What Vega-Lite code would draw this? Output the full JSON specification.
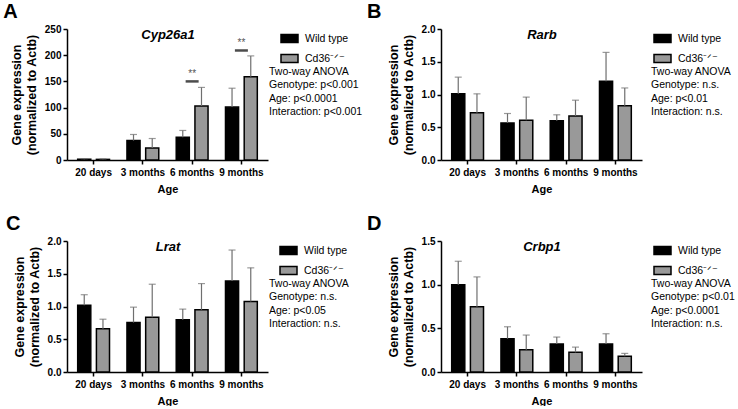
{
  "$schema": "https://vega.github.io/schema/vega-lite/v6.json",
  "padding": {"left": 3, "top": 2, "right": 0, "bottom": 0},
  "columns": 2,
  "bounds": "flush",
  "spacing": {"row": 81, "column": 173},
  "resolve": {"scale": {"fill": "independent"}, "legend": {"fill": "independent"}},
  "datasets": {
    "cyp": [
      {"age": "20 days", "genotype": "Wild type", "mean": 1.5, "upper": 2.5},
      {"age": "20 days", "genotype": "Cd36⁻ᐟ⁻", "mean": 1.2, "upper": 2},
      {"age": "3 months", "genotype": "Wild type", "mean": 37, "upper": 48.7},
      {"age": "3 months", "genotype": "Cd36⁻ᐟ⁻", "mean": 23, "upper": 41},
      {"age": "6 months", "genotype": "Wild type", "mean": 43.6, "upper": 56.4},
      {"age": "6 months", "genotype": "Cd36⁻ᐟ⁻", "mean": 103, "upper": 138.5},
      {"age": "9 months", "genotype": "Wild type", "mean": 101, "upper": 137},
      {"age": "9 months", "genotype": "Cd36⁻ᐟ⁻", "mean": 159, "upper": 198.7}
    ],
    "cypSig": [
      {"age": "6 months", "y": 150, "label": "**"},
      {"age": "9 months", "y": 209, "label": "**"}
    ],
    "rarb": [
      {"age": "20 days", "genotype": "Wild type", "mean": 1.01, "upper": 1.265},
      {"age": "20 days", "genotype": "Cd36⁻ᐟ⁻", "mean": 0.72, "upper": 1.01},
      {"age": "3 months", "genotype": "Wild type", "mean": 0.566, "upper": 0.71},
      {"age": "3 months", "genotype": "Cd36⁻ᐟ⁻", "mean": 0.607, "upper": 0.96},
      {"age": "6 months", "genotype": "Wild type", "mean": 0.6, "upper": 0.69},
      {"age": "6 months", "genotype": "Cd36⁻ᐟ⁻", "mean": 0.673, "upper": 0.913},
      {"age": "9 months", "genotype": "Wild type", "mean": 1.204, "upper": 1.643},
      {"age": "9 months", "genotype": "Cd36⁻ᐟ⁻", "mean": 0.83, "upper": 1.1}
    ],
    "lrat": [
      {"age": "20 days", "genotype": "Wild type", "mean": 1.02, "upper": 1.18},
      {"age": "20 days", "genotype": "Cd36⁻ᐟ⁻", "mean": 0.66, "upper": 0.806},
      {"age": "3 months", "genotype": "Wild type", "mean": 0.755, "upper": 0.99},
      {"age": "3 months", "genotype": "Cd36⁻ᐟ⁻", "mean": 0.837, "upper": 1.34},
      {"age": "6 months", "genotype": "Wild type", "mean": 0.796, "upper": 0.96},
      {"age": "6 months", "genotype": "Cd36⁻ᐟ⁻", "mean": 0.95, "upper": 1.35},
      {"age": "9 months", "genotype": "Wild type", "mean": 1.388, "upper": 1.862},
      {"age": "9 months", "genotype": "Cd36⁻ᐟ⁻", "mean": 1.077, "upper": 1.59}
    ],
    "crbp": [
      {"age": "20 days", "genotype": "Wild type", "mean": 1.0, "upper": 1.268},
      {"age": "20 days", "genotype": "Cd36⁻ᐟ⁻", "mean": 0.746, "upper": 1.089},
      {"age": "3 months", "genotype": "Wild type", "mean": 0.381, "upper": 0.518},
      {"age": "3 months", "genotype": "Cd36⁻ᐟ⁻", "mean": 0.255, "upper": 0.423},
      {"age": "6 months", "genotype": "Wild type", "mean": 0.32, "upper": 0.4},
      {"age": "6 months", "genotype": "Cd36⁻ᐟ⁻", "mean": 0.225, "upper": 0.285},
      {"age": "9 months", "genotype": "Wild type", "mean": 0.32, "upper": 0.438},
      {"age": "9 months", "genotype": "Cd36⁻ᐟ⁻", "mean": 0.179, "upper": 0.213}
    ]
  },
  "concat": [
    {
      "title": {"text": "A", "dx": -7},
      "width": 201, "height": 131,
      "data": {"name": "cyp"},
      "resolve": {"axis": {"x": "independent"}},
      "layer": [
        {
          "mark": {"type": "bar", "stroke": "black", "strokeWidth": 1.5},
          "encoding": {
            "x": {"field": "age", "type": "nominal", "scale": {"domain": ["20 days", "3 months", "6 months", "9 months"], "paddingInner": 0.354, "paddingOuter": 0.217}, "axis": {"title": "Age"}},
            "xOffset": {"field": "genotype", "type": "nominal", "scale": {"domain": ["Wild type", "Cd36⁻ᐟ⁻"], "paddingInner": 0.3}},
            "y": {"field": "mean", "type": "quantitative", "scale": {"domain": [0, 250], "nice": false}, "axis": {"values": [0, 50, 100, 150, 200, 250], "title": ["Gene expression", "(normalized to Actb)"]}},
            "fill": {"field": "genotype", "type": "nominal", "scale": {"domain": ["Wild type", "Cd36⁻ᐟ⁻"], "range": ["#000000", "#999999"]},
              "legend": {"title": ["Two-way ANOVA", "Genotype: p<0.001", "Age: p<0.0001", "Interaction: p<0.001"], "offset": 1, "symbolOffset": 11}}
          }
        },
        {
          "mark": {"type": "rule", "color": "#6f6f6f", "strokeWidth": 1.2},
          "encoding": {
            "x": {"field": "age", "type": "nominal", "axis": {"orient": "top", "title": "Cyp26a1", "labels": false, "ticks": false, "domain": false, "titlePadding": -12, "titleFontSize": 13, "titleFontStyle": "italic"}},
            "xOffset": {"field": "genotype", "type": "nominal"},
            "y": {"field": "mean", "type": "quantitative", "axis": {"values": [0, 50, 100, 150, 200, 250], "title": ["Gene expression", "(normalized to Actb)"]}},
            "y2": {"field": "upper"}
          }
        },
        {
          "mark": {"type": "tick", "color": "#6f6f6f", "thickness": 1.2, "size": 7},
          "encoding": {
            "x": {"field": "age", "type": "nominal", "axis": null},
            "xOffset": {"field": "genotype", "type": "nominal"},
            "y": {"field": "upper", "type": "quantitative", "axis": {"values": [0, 50, 100, 150, 200, 250], "title": ["Gene expression", "(normalized to Actb)"]}}
          }
        },
        {
          "data": {"name": "cypSig"},
          "mark": {"type": "tick", "color": "black", "thickness": 2.5, "size": 13},
          "encoding": {
            "x": {"field": "age", "type": "nominal", "axis": null},
            "y": {"field": "y", "type": "quantitative", "axis": {"values": [0, 50, 100, 150, 200, 250], "title": ["Gene expression", "(normalized to Actb)"]}}
          }
        },
        {
          "data": {"name": "cypSig"},
          "mark": {"type": "text", "color": "#555555", "fontSize": 10, "dy": -7},
          "encoding": {
            "x": {"field": "age", "type": "nominal", "axis": null},
            "y": {"field": "y", "type": "quantitative", "axis": {"values": [0, 50, 100, 150, 200, 250], "title": ["Gene expression", "(normalized to Actb)"]}},
            "text": {"field": "label"}
          }
        }
      ]
    },
    {
      "title": {"text": "B", "dx": -20},
      "width": 201, "height": 131,
      "data": {"name": "rarb"},
      "resolve": {"axis": {"x": "independent"}},
      "layer": [
        {
          "mark": {"type": "bar", "stroke": "black", "strokeWidth": 1.5},
          "encoding": {
            "x": {"field": "age", "type": "nominal", "scale": {"domain": ["20 days", "3 months", "6 months", "9 months"], "paddingInner": 0.354, "paddingOuter": 0.217}, "axis": {"title": "Age"}},
            "xOffset": {"field": "genotype", "type": "nominal", "scale": {"domain": ["Wild type", "Cd36⁻ᐟ⁻"], "paddingInner": 0.3}},
            "y": {"field": "mean", "type": "quantitative", "scale": {"domain": [0, 2], "nice": false}, "axis": {"values": [0, 0.5, 1, 1.5, 2], "format": ".1f", "title": ["Gene expression", "(normalized to Actb)"]}},
            "fill": {"field": "genotype", "type": "nominal", "scale": {"domain": ["Wild type", "Cd36⁻ᐟ⁻"], "range": ["#000000", "#999999"]},
              "legend": {"title": ["Two-way ANOVA", "Genotype: n.s.", "Age: p<0.01", "Interaction: n.s."], "offset": 9, "symbolOffset": 2}}
          }
        },
        {
          "mark": {"type": "rule", "color": "#6f6f6f", "strokeWidth": 1.2},
          "encoding": {
            "x": {"field": "age", "type": "nominal", "axis": {"orient": "top", "title": "Rarb", "labels": false, "ticks": false, "domain": false, "titlePadding": -12, "titleFontSize": 13, "titleFontStyle": "italic"}},
            "xOffset": {"field": "genotype", "type": "nominal"},
            "y": {"field": "mean", "type": "quantitative", "axis": {"values": [0, 0.5, 1, 1.5, 2], "format": ".1f", "title": ["Gene expression", "(normalized to Actb)"]}},
            "y2": {"field": "upper"}
          }
        },
        {
          "mark": {"type": "tick", "color": "#6f6f6f", "thickness": 1.2, "size": 7},
          "encoding": {
            "x": {"field": "age", "type": "nominal", "axis": null},
            "xOffset": {"field": "genotype", "type": "nominal"},
            "y": {"field": "upper", "type": "quantitative", "axis": {"values": [0, 0.5, 1, 1.5, 2], "format": ".1f", "title": ["Gene expression", "(normalized to Actb)"]}}
          }
        }
      ]
    },
    {
      "title": {"text": "C", "dx": -7},
      "width": 201, "height": 131,
      "data": {"name": "lrat"},
      "resolve": {"axis": {"x": "independent"}},
      "layer": [
        {
          "mark": {"type": "bar", "stroke": "black", "strokeWidth": 1.5},
          "encoding": {
            "x": {"field": "age", "type": "nominal", "scale": {"domain": ["20 days", "3 months", "6 months", "9 months"], "paddingInner": 0.354, "paddingOuter": 0.217}, "axis": {"title": "Age"}},
            "xOffset": {"field": "genotype", "type": "nominal", "scale": {"domain": ["Wild type", "Cd36⁻ᐟ⁻"], "paddingInner": 0.3}},
            "y": {"field": "mean", "type": "quantitative", "scale": {"domain": [0, 2], "nice": false}, "axis": {"values": [0, 0.5, 1, 1.5, 2], "format": ".1f", "title": ["Gene expression", "(normalized to Actb)"]}},
            "fill": {"field": "genotype", "type": "nominal", "scale": {"domain": ["Wild type", "Cd36⁻ᐟ⁻"], "range": ["#000000", "#999999"]},
              "legend": {"title": ["Two-way ANOVA", "Genotype: n.s.", "Age: p<0.05", "Interaction: n.s."], "offset": 1, "symbolOffset": 10}}
          }
        },
        {
          "mark": {"type": "rule", "color": "#6f6f6f", "strokeWidth": 1.2},
          "encoding": {
            "x": {"field": "age", "type": "nominal", "axis": {"orient": "top", "title": "Lrat", "labels": false, "ticks": false, "domain": false, "titlePadding": -12, "titleFontSize": 13, "titleFontStyle": "italic"}},
            "xOffset": {"field": "genotype", "type": "nominal"},
            "y": {"field": "mean", "type": "quantitative", "axis": {"values": [0, 0.5, 1, 1.5, 2], "format": ".1f", "title": ["Gene expression", "(normalized to Actb)"]}},
            "y2": {"field": "upper"}
          }
        },
        {
          "mark": {"type": "tick", "color": "#6f6f6f", "thickness": 1.2, "size": 7},
          "encoding": {
            "x": {"field": "age", "type": "nominal", "axis": null},
            "xOffset": {"field": "genotype", "type": "nominal"},
            "y": {"field": "upper", "type": "quantitative", "axis": {"values": [0, 0.5, 1, 1.5, 2], "format": ".1f", "title": ["Gene expression", "(normalized to Actb)"]}}
          }
        }
      ]
    },
    {
      "title": {"text": "D", "dx": -20},
      "width": 201, "height": 131,
      "data": {"name": "crbp"},
      "resolve": {"axis": {"x": "independent"}},
      "layer": [
        {
          "mark": {"type": "bar", "stroke": "black", "strokeWidth": 1.5},
          "encoding": {
            "x": {"field": "age", "type": "nominal", "scale": {"domain": ["20 days", "3 months", "6 months", "9 months"], "paddingInner": 0.354, "paddingOuter": 0.217}, "axis": {"title": "Age"}},
            "xOffset": {"field": "genotype", "type": "nominal", "scale": {"domain": ["Wild type", "Cd36⁻ᐟ⁻"], "paddingInner": 0.3}},
            "y": {"field": "mean", "type": "quantitative", "scale": {"domain": [0, 1.5], "nice": false}, "axis": {"values": [0, 0.5, 1, 1.5], "format": ".1f", "title": ["Gene expression", "(normalized to Actb)"]}},
            "fill": {"field": "genotype", "type": "nominal", "scale": {"domain": ["Wild type", "Cd36⁻ᐟ⁻"], "range": ["#000000", "#999999"]},
              "legend": {"title": ["Two-way ANOVA", "Genotype: p<0.01", "Age: p<0.0001", "Interaction: n.s."], "offset": 9, "symbolOffset": 2}}
          }
        },
        {
          "mark": {"type": "rule", "color": "#6f6f6f", "strokeWidth": 1.2},
          "encoding": {
            "x": {"field": "age", "type": "nominal", "axis": {"orient": "top", "title": "Crbp1", "labels": false, "ticks": false, "domain": false, "titlePadding": -12, "titleFontSize": 13, "titleFontStyle": "italic"}},
            "xOffset": {"field": "genotype", "type": "nominal"},
            "y": {"field": "mean", "type": "quantitative", "axis": {"values": [0, 0.5, 1, 1.5], "format": ".1f", "title": ["Gene expression", "(normalized to Actb)"]}},
            "y2": {"field": "upper"}
          }
        },
        {
          "mark": {"type": "tick", "color": "#6f6f6f", "thickness": 1.2, "size": 7},
          "encoding": {
            "x": {"field": "age", "type": "nominal", "axis": null},
            "xOffset": {"field": "genotype", "type": "nominal"},
            "y": {"field": "upper", "type": "quantitative", "axis": {"values": [0, 0.5, 1, 1.5], "format": ".1f", "title": ["Gene expression", "(normalized to Actb)"]}}
          }
        }
      ]
    }
  ],
  "config": {
    "view": {"stroke": null},
    "font": "Liberation Sans",
    "title": {"font": "Liberation Sans", "fontSize": 20, "fontWeight": "bold", "color": "black", "anchor": "start", "frame": "bounds", "offset": 2},
    "axis": {"domainColor": "black", "domainWidth": 1.5, "tickColor": "black", "tickWidth": 1.5, "tickSize": 4, "labelColor": "black", "labelFont": "Liberation Sans", "labelFontSize": 10, "labelFontWeight": "bold", "titleColor": "black", "titleFont": "Liberation Sans", "titleFontWeight": "bold", "grid": false},
    "axisY": {"titleFontSize": 12.5, "titleLineHeight": 15, "titlePadding": 6, "labelPadding": 2},
    "axisX": {"labelAngle": 0, "titleFontSize": 11, "titlePadding": 6, "labelPadding": 3},
    "legend": {"orient": "right", "symbolType": "M-1,-0.47H1V0.47H-1Z", "symbolSize": 289, "symbolStrokeColor": "black", "symbolStrokeWidth": 1.5, "labelFont": "Liberation Sans", "labelFontSize": 10.5, "labelColor": "black", "labelOffset": 6, "titleFont": "Liberation Sans", "titleFontSize": 10.5, "titleFontWeight": "normal", "titleColor": "black", "titleOrient": "bottom", "titleAnchor": "start", "titleLineHeight": 13.3, "titlePadding": 2, "rowPadding": 3, "padding": 0}
  }
}
